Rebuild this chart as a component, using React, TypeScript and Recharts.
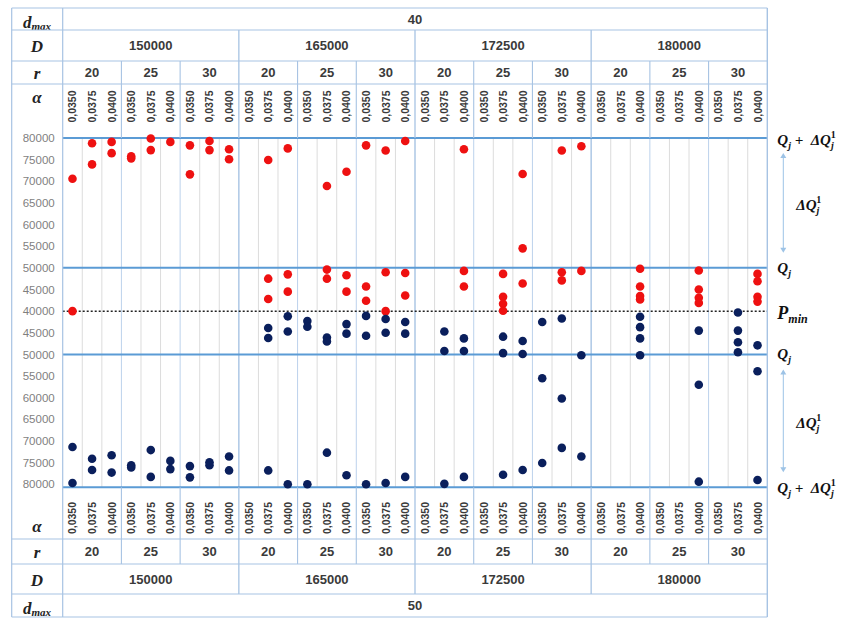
import React from 'react';
import { ScatterChart, Scatter, XAxis, YAxis, ReferenceLine, ReferenceArea } from 'recharts';

// ---------- data ----------
const dGroups = ['150000', '165000', '172500', '180000'];
const rGroups = ['20', '25', '30'];
const alphaLabels = ['0,0350', '0,0375', '0,0400'];
const dmaxTop = '40';
const dmaxBottom = '50';
const yTickLabels = [80000, 75000, 70000, 65000, 60000, 55000, 50000, 45000, 40000];

// [column index (0..35), value] – upper half (d_max = 40)
const redPoints: [number, number][] = [
  [0, 70600], [0, 40000],
  [1, 78800], [1, 73900],
  [2, 79100], [2, 76500],
  [3, 75800], [3, 75300],
  [4, 79900], [4, 77200],
  [5, 79100],
  [6, 78300], [6, 71600],
  [7, 79300], [7, 77200],
  [8, 77400], [8, 75100],
  [10, 74900], [10, 47500], [10, 42800],
  [11, 77600], [11, 48500], [11, 44500],
  [13, 68900], [13, 49600], [13, 47500],
  [14, 72200], [14, 48300], [14, 44500],
  [15, 78300], [15, 45700], [15, 42400],
  [16, 77100], [16, 49000], [16, 40000],
  [17, 79300], [17, 48800], [17, 43600],
  [20, 77400], [20, 49300], [20, 45700],
  [22, 48600], [22, 43300], [22, 41700], [22, 40100],
  [23, 71700], [23, 54500], [23, 46400],
  [25, 77100], [25, 49000], [25, 47100],
  [26, 78100], [26, 49300],
  [29, 49800], [29, 45700], [29, 43500], [29, 42700],
  [32, 49400], [32, 45000], [32, 43100], [32, 41900],
  [35, 48600], [35, 46900], [35, 43300], [35, 42200],
];

// [column index, value] – lower half (d_max = 50)
const navyPoints: [number, number][] = [
  [0, 71400], [0, 79700],
  [1, 74100], [1, 76700],
  [2, 73300], [2, 77300],
  [3, 75600], [3, 76100],
  [4, 72100], [4, 78300],
  [5, 74600], [5, 76500],
  [6, 75800], [6, 78400],
  [7, 74900], [7, 75600],
  [8, 73600], [8, 76800],
  [10, 43900], [10, 46200], [10, 76800],
  [11, 41200], [11, 44700], [11, 80000],
  [12, 42300], [12, 43600], [12, 80000],
  [13, 46100], [13, 47000], [13, 72700],
  [14, 43000], [14, 45200], [14, 77900],
  [15, 41100], [15, 45700], [15, 80000],
  [16, 41800], [16, 45000], [16, 79700],
  [17, 42500], [17, 45200], [17, 78300],
  [19, 44700], [19, 49200], [19, 79900],
  [20, 46300], [20, 49200], [20, 78300],
  [22, 45900], [22, 49700], [22, 77800],
  [23, 46900], [23, 49900], [23, 76700],
  [24, 42500], [24, 55500], [24, 75100],
  [25, 41700], [25, 60200], [25, 71600],
  [26, 50200], [26, 73600],
  [29, 41300], [29, 43700], [29, 46300], [29, 50200],
  [32, 44500], [32, 57000], [32, 79400],
  [34, 40300], [34, 44500], [34, 47200], [34, 49500],
  [35, 47900], [35, 53900], [35, 79000],
];

// ---------- derived ----------
const PMIN = 40000;
const colCount = dGroups.length * rGroups.length * alphaLabels.length;
const redData = redPoints.map(([c, v]) => ({ x: c + 0.5, y: v - PMIN }));
const navyData = navyPoints.map(([c, v]) => ({ x: c + 0.5, y: PMIN - v }));
const yTicks = Array.from(new Set([
  ...yTickLabels.map((l) => l - PMIN),
  ...yTickLabels.map((l) => PMIN - l),
])).sort((a, b) => a - b);
const xTicks = Array.from({ length: colCount * 2 + 1 }, (_, i) => i / 2);
const boundaries = Array.from({ length: colCount - 1 }, (_, i) => i + 1);
const Q_TOP = 40000;      // 80000
const Q_MID = 10000;      // 50000
const Q_BOTTOM = -40700;  // lower 80000 edge

// ---------- layout / style ----------
const W = 841;
const H = 619;
const LEFT_EDGE = 11.7;
const SANS = "'Liberation Sans', Arial, sans-serif";
const SERIF = "'Liberation Serif', 'DejaVu Serif', serif";
const BORDER = '#a7c3e3';
const R_LINE = '#bcd2ec';
const COL_LINE = '#dcdcdc';
const BLUE = '#5b9bd5';
const TXT = '#3a3a3a';

const TOPL = {
  edge: 8, dTop: 30, rTop: 61, aTop: 84, aEnd: 138,
  dmaxY: 19.5, dY: 45.5, rY: 72.5, aY: 106.5,
  lab: { dmax: 22, d: 46, r: 73, a: 97 },
  hLines: [8, 30, 61, 84],
};
const BOTL = {
  edge: 617, aTop: 487.3, rTop: 539, dTop: 564, dmaxTop: 594,
  dmaxY: 605.5, dY: 579, rY: 551.5, aY: 518,
  lab: { dmax: 608, d: 580, r: 552, a: 526 },
  hLines: [539, 564, 594, 617],
};

const headerText = { fontFamily: SANS, fontWeight: 'bold' as const, fontSize: 13, fill: TXT };
const alphaText = { fontFamily: SANS, fontWeight: 'bold' as const, fontSize: 10.5, fill: TXT };
const rowLabel = { fontFamily: SERIF, fontStyle: 'italic' as const, fontWeight: 'bold' as const, fontSize: 17, fill: '#222' };
const anno = { fontFamily: SERIF, fontStyle: 'italic' as const, fontWeight: 'bold' as const, fontSize: 15, fill: '#111' };

const RowLabels = ({ lab }: { lab: { dmax: number; d: number; r: number; a: number } }) => (
  <g>
    <text x={37} y={lab.dmax} textAnchor="middle" dominantBaseline="central" style={rowLabel}>
      <tspan>d</tspan>
      <tspan fontSize={11} dy={4}>max</tspan>
    </text>
    <text x={37} y={lab.d} textAnchor="middle" dominantBaseline="central" style={rowLabel}>D</text>
    <text x={37} y={lab.r} textAnchor="middle" dominantBaseline="central" style={rowLabel}>r</text>
    <text x={37} y={lab.a} textAnchor="middle" dominantBaseline="central" style={rowLabel}>α</text>
  </g>
);

const makeHeaderTick = (side: 'top' | 'bottom') => (props: any) => {
  const { x, payload } = props;
  const v: number = payload.value;
  const top = side === 'top';
  const els: React.ReactNode[] = [];
  if (Number.isInteger(v)) {
    if (v === 0) {
      if (top) {
        els.push(<line key="l0" x1={x} x2={x} y1={TOPL.edge} y2={BOTL.edge} stroke={BORDER} strokeWidth={1.2} />);
        els.push(<line key="le" x1={LEFT_EDGE} x2={LEFT_EDGE} y1={TOPL.edge} y2={BOTL.edge} stroke={BORDER} strokeWidth={1.2} />);
      }
      els.push(<RowLabels key="rl" lab={top ? TOPL.lab : BOTL.lab} />);
    } else if (v === colCount) {
      if (top) {
        els.push(<line key="lr" x1={x} x2={x} y1={TOPL.edge} y2={BOTL.edge} stroke={BORDER} strokeWidth={1.4} />);
      }
      (top ? TOPL.hLines : BOTL.hLines).forEach((hy) =>
        els.push(<line key={'h' + hy} x1={LEFT_EDGE} x2={x} y1={hy} y2={hy} stroke={BORDER} strokeWidth={1.1} />)
      );
    } else if (v % 9 === 0) {
      els.push(top
        ? <line key="d" x1={x} x2={x} y1={TOPL.dTop} y2={TOPL.aEnd} stroke={BORDER} strokeWidth={1.3} />
        : <line key="d" x1={x} x2={x} y1={BOTL.aTop} y2={BOTL.dmaxTop} stroke={BORDER} strokeWidth={1.3} />);
    } else if (v % 3 === 0) {
      els.push(top
        ? <line key="r" x1={x} x2={x} y1={TOPL.rTop} y2={TOPL.aEnd} stroke={BORDER} strokeWidth={1.1} />
        : <line key="r" x1={x} x2={x} y1={BOTL.aTop} y2={BOTL.dTop} stroke={BORDER} strokeWidth={1.1} />);
    }
  } else {
    const col = Math.floor(v);
    const ay = top ? TOPL.aY : BOTL.aY;
    els.push(
      <text key="a" transform={`translate(${x},${ay}) rotate(-90)`} textAnchor="middle" dominantBaseline="central" style={alphaText}>
        {alphaLabels[col % 3]}
      </text>
    );
    if (col % 3 === 1) {
      els.push(
        <text key="rt" x={x} y={top ? TOPL.rY : BOTL.rY} textAnchor="middle" dominantBaseline="central" style={headerText}>
          {rGroups[Math.floor(col / 3) % 3]}
        </text>
      );
    }
    if (col % 9 === 4) {
      els.push(
        <text key="dt" x={x} y={top ? TOPL.dY : BOTL.dY} textAnchor="middle" dominantBaseline="central" style={headerText}>
          {dGroups[Math.floor(col / 9)]}
        </text>
      );
    }
  }
  if (v === colCount / 2) {
    els.push(
      <text key="dm" x={x} y={top ? TOPL.dmaxY : BOTL.dmaxY} textAnchor="middle" dominantBaseline="central" style={headerText}>
        {top ? dmaxTop : dmaxBottom}
      </text>
    );
  }
  return <g>{els}</g>;
};

const Sup1 = () => (
  <tspan fontSize={10} fontStyle="normal" dx={-3} dy={-11}>1</tspan>
);

const QjDelta = ({ x, y }: { x: number; y: number }) => (
  <text x={x} y={y} style={anno}>
    <tspan>Q</tspan>
    <tspan fontSize={10} dy={4}>j</tspan>
    <tspan dy={-4}>{'\u00a0+\u00a0\u00a0ΔQ'}</tspan>
    <tspan fontSize={10} dy={4}>j</tspan>
    <Sup1 />
  </text>
);
const Qj = ({ x, y }: { x: number; y: number }) => (
  <text x={x} y={y} style={anno}>
    <tspan>Q</tspan>
    <tspan fontSize={10} dy={4}>j</tspan>
  </text>
);
const Pmin = ({ x, y }: { x: number; y: number }) => (
  <text x={x} y={y} style={{ ...anno, fontSize: 18 }}>
    <tspan>P</tspan>
    <tspan fontSize={12} dy={4}>min</tspan>
  </text>
);

const lineLabel = (Comp: any, dy: number) => (p: any) => {
  const vb = p.viewBox || {};
  return <Comp x={vb.x + vb.width + 10} y={vb.y + dy} />;
};

const deltaLabel = (p: any) => {
  const vb = p.viewBox || {};
  const ax = vb.x + vb.width + 16;
  const t = vb.y + 15;
  const b = vb.y + vb.height - 15;
  const c = '#9dc3e6';
  return (
    <g>
      <line x1={ax} x2={ax} y1={t + 4} y2={b - 4} stroke={c} strokeWidth={1} />
      <path d={`M${ax - 3},${t + 5} L${ax},${t} L${ax + 3},${t + 5} Z`} fill={c} />
      <path d={`M${ax - 3},${b - 5} L${ax},${b} L${ax + 3},${b - 5} Z`} fill={c} />
      <text x={ax + 13} y={vb.y + vb.height / 2 + 7} style={anno}>
        <tspan>ΔQ</tspan>
        <tspan fontSize={10} dy={4}>j</tspan>
        <Sup1 />
      </text>
    </g>
  );
};

const dot = (color: string) => (p: any) => <circle cx={p.cx} cy={p.cy} r={4.3} fill={color} />;

export default function App() {
  return (
    <div style={{ position: 'absolute', left: 0, top: 0, width: W, height: H, background: '#fff' }}>
      <ScatterChart width={W} height={H} margin={{ top: 8, right: 73.7, bottom: 1.7, left: LEFT_EDGE }}>
        <XAxis
          xAxisId="top"
          orientation="top"
          type="number"
          dataKey="x"
          domain={[0, colCount]}
          ticks={xTicks}
          interval={0}
          height={130}
          axisLine={false}
          tickLine={false}
          tick={makeHeaderTick('top')}
        />
        <XAxis
          xAxisId="bottom"
          orientation="bottom"
          type="number"
          dataKey="x"
          domain={[0, colCount]}
          ticks={xTicks}
          interval={0}
          height={130}
          axisLine={false}
          tickLine={false}
          tick={makeHeaderTick('bottom')}
        />
        <YAxis
          type="number"
          dataKey="y"
          domain={[Q_BOTTOM, Q_TOP]}
          ticks={yTicks}
          interval={0}
          width={51}
          axisLine={false}
          tickLine={false}
          tickFormatter={(u: number) => String(PMIN + Math.abs(u))}
          tick={{ fill: '#7f7f7f', fontSize: 11.5, fontFamily: SANS }}
        />
        {boundaries.map((b) => (
          <ReferenceLine
            key={'v' + b}
            xAxisId="top"
            x={b}
            stroke={b % 9 === 0 ? BORDER : b % 3 === 0 ? R_LINE : COL_LINE}
            strokeWidth={b % 9 === 0 ? 1.4 : 1}
          />
        ))}
        <ReferenceArea xAxisId="top" y1={Q_MID} y2={Q_TOP} fill="none" fillOpacity={0} stroke="none" label={deltaLabel} />
        <ReferenceArea xAxisId="top" y1={Q_BOTTOM} y2={-Q_MID} fill="none" fillOpacity={0} stroke="none" label={deltaLabel} />
        <ReferenceLine xAxisId="top" y={Q_TOP} stroke={BLUE} strokeWidth={2} label={lineLabel(QjDelta, 7)} />
        <ReferenceLine xAxisId="top" y={Q_MID} stroke={BLUE} strokeWidth={2} label={lineLabel(Qj, 5)} />
        <ReferenceLine xAxisId="top" y={0} stroke="#222" strokeWidth={1.5} strokeDasharray="2 2" label={lineLabel(Pmin, 8)} />
        <ReferenceLine xAxisId="top" y={-Q_MID} stroke={BLUE} strokeWidth={2} label={lineLabel(Qj, 5)} />
        <ReferenceLine xAxisId="top" y={Q_BOTTOM} stroke={BLUE} strokeWidth={2} label={lineLabel(QjDelta, 6)} />
        <Scatter xAxisId="top" data={redData} fill="#ee1111" isAnimationActive={false} shape={dot('#ee1111')} />
        <Scatter xAxisId="bottom" data={navyData} fill="#0a1f5c" isAnimationActive={false} shape={dot('#0a1f5c')} />
      </ScatterChart>
    </div>
  );
}
